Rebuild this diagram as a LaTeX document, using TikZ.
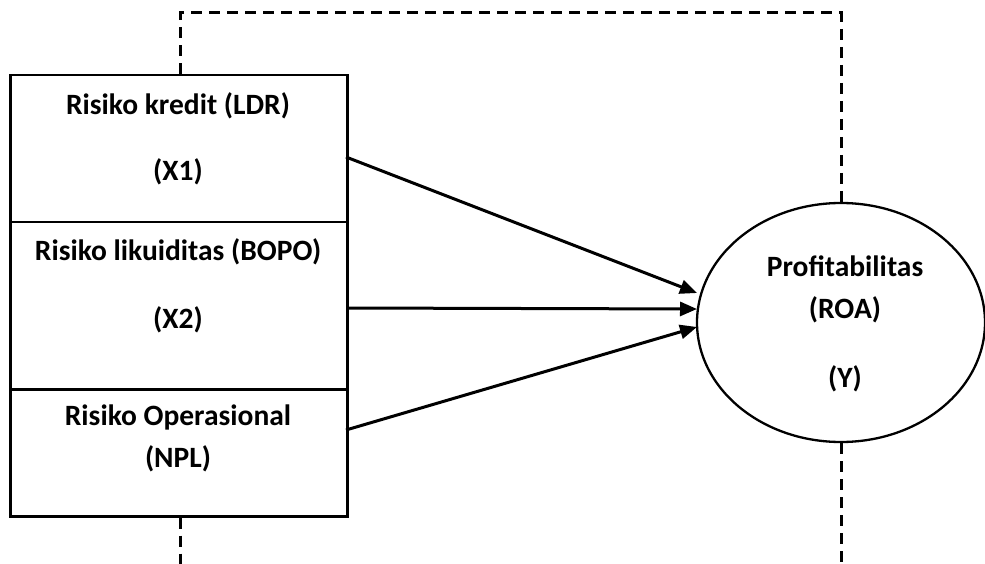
\documentclass[tikz,border=0pt]{standalone}
\usepackage{fontspec}
\setmainfont{Carlito}
\usetikzlibrary{arrows.meta,shapes.geometric}
\begin{document}
\begin{tikzpicture}[x=1pt,y=-1pt,
  box/.style={draw,line width=2.5pt,minimum width=337pt,inner sep=0pt,anchor=north west},
  lbl/.style={font=\fontsize{29.5}{35}\selectfont\bfseries,inner sep=0pt},
  arr/.style={line width=3pt,-{Triangle[length=17pt,width=14pt]}},
  dashline/.style={line width=3pt,dash pattern=on 11pt off 7pt}]
\useasboundingbox (0,0) rectangle (985,564);
\node[box,minimum height=147pt] (b1) at (9,74) {};
\node[box,minimum height=167pt] (b2) at (9,221) {};
\node[box,minimum height=127pt] (b3) at (9,388) {};
\node[lbl] (t1a) at (178,106) {Risiko kredit (LDR)};
\node[lbl] (t1b) at (178,172) {(X1)};
\node[lbl] (t2a) at (178,252) {Risiko likuiditas (BOPO)};
\node[lbl] (t2b) at (178,320) {(X2)};
\node[lbl] (t3a) at (178,417) {Risiko Operasional};
\node[lbl] (t3b) at (178,459) {(NPL)};
\node[draw,ellipse,line width=2.3pt,minimum width=288pt,minimum height=239pt,inner sep=0pt] (e) at (841,322.5) {};
\node[lbl] (ea) at (845,266) {Profitabilitas};
\node[lbl] (eb) at (845,310) {(ROA)};
\node[lbl] (ec) at (845,379) {(Y)};
\coordinate (s1) at (346,157);
\coordinate (s2) at (346,308);
\coordinate (s3) at (346,430);
\coordinate (p1) at (697,293);
\coordinate (p2) at (697,309);
\coordinate (p3) at (697,327);
\draw[arr] (s1) -- (p1);
\draw[arr] (s2) -- (p2);
\draw[arr] (s3) -- (p3);
\coordinate (c1) at (180,13);
\coordinate (c2) at (841,13);
\coordinate (c3) at (180,564);
\coordinate (c4) at (841,564);
\draw[dashline] (b1.north -| c1) -- (c1) -- (c2) -- (e.north);
\draw[dashline] (b3.south -| c3) -- (c3);
\draw[dashline] (e.south) -- (c4);
\end{tikzpicture}
\end{document}
